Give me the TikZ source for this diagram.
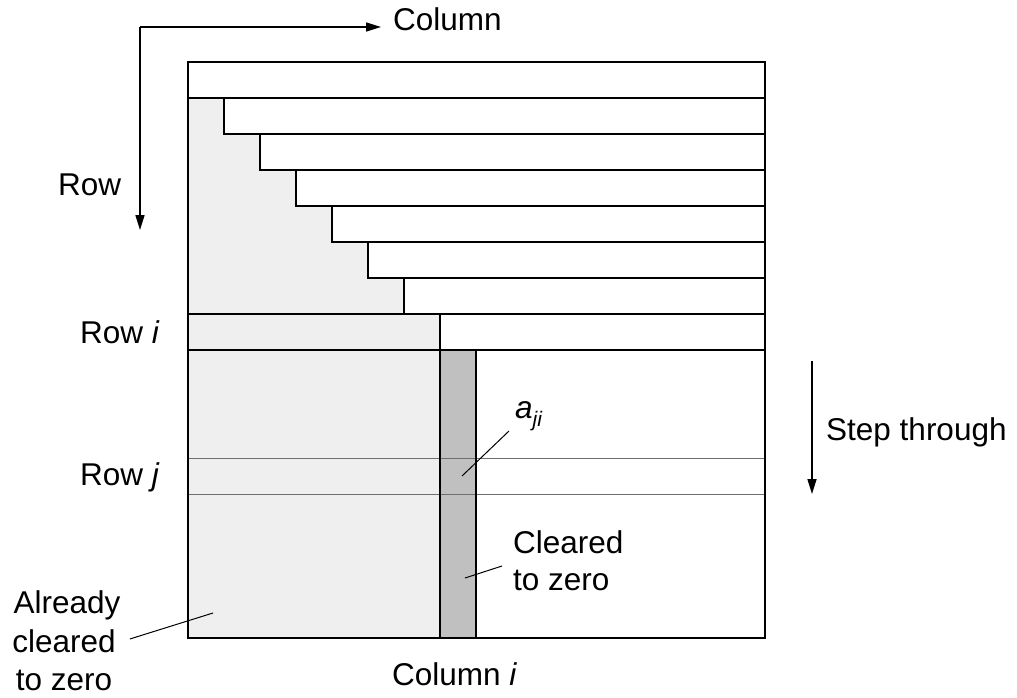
\documentclass[tikz,border=0pt]{standalone}
\usepackage{fontspec}
\setmainfont{Liberation Sans}
\usetikzlibrary{arrows.meta}
\definecolor{lightzero}{HTML}{EFEFEF}
\definecolor{darkzero}{HTML}{C0C0C0}
\definecolor{thinrow}{HTML}{6E6E6E}
\begin{document}
\begin{tikzpicture}[x=1pt,y=-1pt,
  lbl/.style={font=\fontsize{31.5}{38}\selectfont, inner sep=0pt, anchor=base west},
  mline/.style={draw=black, line width=1.5pt},
  rowjline/.style={draw=thinrow, line width=0.9pt},
  leader/.style={draw=black, line width=1pt},
  arr/.style={draw=black, line width=1.6pt, -{Triangle[length=15pt,width=9pt]}}]
\useasboundingbox (0,0) rectangle (1017,698);
% shaded regions
\fill[lightzero] (188,98) -- (224,98) -- (224,134) -- (260,134) -- (260,170) -- (296,170)
  -- (296,206) -- (332,206) -- (332,242) -- (368,242) -- (368,278) -- (404,278)
  -- (404,314) -- (440,314) -- (440,638) -- (188,638) -- cycle;
\fill[darkzero] (440,350) rectangle (476,638);
% row j
\draw[rowjline] (188,458) -- (765,458);
\draw[rowjline] (188,494) -- (765,494);
% matrix outline and rows
\draw[mline] (188,62) rectangle (765,638);
\draw[mline] (188,98) -- (765,98);
\draw[mline] (224,98) -- (224,134) -- (765,134);
\draw[mline] (260,134) -- (260,170) -- (765,170);
\draw[mline] (296,170) -- (296,206) -- (765,206);
\draw[mline] (332,206) -- (332,242) -- (765,242);
\draw[mline] (368,242) -- (368,278) -- (765,278);
\draw[mline] (404,278) -- (404,314);
\draw[mline] (188,314) -- (765,314);
\draw[mline] (188,350) -- (765,350);
\draw[mline] (440,314) -- (440,638);
\draw[mline] (476,350) -- (476,638);
% labels
\node[lbl] (column) at (393,31) {Column};
\node[lbl] (row) at (58,195) {Row};
\node[lbl] (rowi) at (80,343) {Row \textit{i}};
\node[lbl] (rowj) at (80,485) {Row \textit{j}};
\node[lbl] (step) at (826,440) {Step through};
\node[lbl] (aji) at (515,418) {\textit{a}\raisebox{-0.28em}{\fontsize{21}{21}\selectfont\textit{ji}}};
\node[lbl] (cleared) at (513,553) {Cleared};
\node[lbl] (clearedb) at (513,590) {to zero};
\node[lbl, anchor=base] (already) at (67,613) {Already};
\node[lbl, anchor=base] (alreadyb) at (64,652) {cleared};
\node[lbl, anchor=base] (alreadyc) at (64,690) {to zero};
\node[lbl] (coli) at (392,685) {Column \textit{i}};
% arrows
\coordinate (corner) at (140,27);
\coordinate (colend) at (381,27);
\coordinate (rowend) at (140,230);
\coordinate (steptop) at (812,361);
\coordinate (stepend) at (812,494);
\draw[arr] (corner) -- (colend);
\draw[arr] (corner) -- (rowend);
\draw[arr] (steptop) -- (stepend);
% leaders
\coordinate (ajitip) at (462,476);
\coordinate (clearedtip) at (465,578);
\coordinate (alreadytip) at (213,613);
\draw[leader] (ajitip) -- ([xshift=-6pt,yshift=-13pt]aji.base west);
\draw[leader] (clearedtip) -- ([xshift=-11pt,yshift=-13pt]cleared.base west);
\draw[leader] (alreadytip) -- ([xshift=14pt,yshift=13pt]alreadyb.base east);
\end{tikzpicture}
\end{document}
